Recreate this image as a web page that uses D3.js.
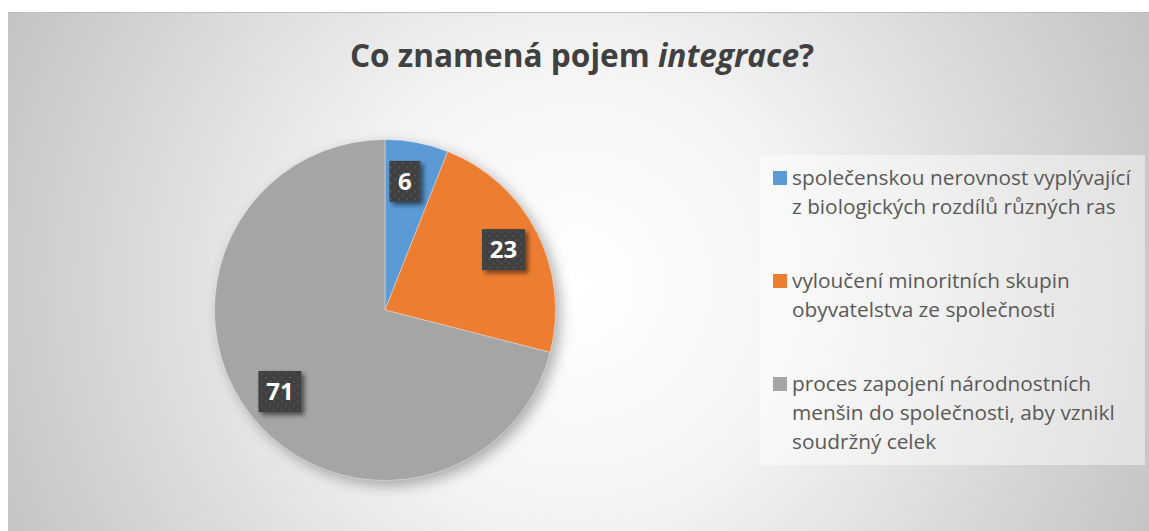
<!DOCTYPE html>
<html>
<head>
<meta charset="utf-8">
<script src="https://cdn.jsdelivr.net/npm/d3@7"></script>
<style>
  body { margin: 0; background: #fff; }
  svg { display: block; font-family: "Open Sans", sans-serif; }
</style>
</head>
<body>
<svg id="chart" width="1149" height="531"></svg>
<script>
// data
var categories = [
  ["společenskou nerovnost vyplývající", "z biologických rozdílů různých ras"],
  ["vyloučení minoritních skupin", "obyvatelstva ze společnosti"],
  ["proces zapojení národnostních", "menšin do společnosti, aby vznikl", "soudržný celek"]
];
var values = [6, 23, 71];
var colors = ["#5b9bd5", "#ed7d31", "#a5a5a5"];

var width = 1149, height = 531;
var cx = 385, cy = 310, radius = 170.5;

var svg = d3.select("#chart");
var defs = svg.append("defs");

// background gradient, white in the middle and grey to the corners
var bg = defs.append("radialGradient")
    .attr("id", "bg")
    .attr("gradientUnits", "userSpaceOnUse")
    .attr("cx", 575).attr("cy", 285).attr("r", 640);
bg.append("stop").attr("offset", "0").attr("stop-color", "#ffffff");
bg.append("stop").attr("offset", "0.35").attr("stop-color", "#f4f4f4");
bg.append("stop").attr("offset", "1").attr("stop-color", "#c2c2c2");

var blur = defs.append("filter").attr("id", "pieShadow")
    .attr("x", "-20%").attr("y", "-20%").attr("width", "140%").attr("height", "140%");
blur.append("feGaussianBlur").attr("stdDeviation", 7);

var boxShadow = defs.append("filter").attr("id", "boxShadow")
    .attr("x", "-30%").attr("y", "-30%").attr("width", "170%").attr("height", "170%");
boxShadow.append("feGaussianBlur").attr("in", "SourceAlpha").attr("stdDeviation", 2.5).attr("result", "b");
boxShadow.append("feOffset").attr("in", "b").attr("dx", 3).attr("dy", 3).attr("result", "o");
boxShadow.append("feComponentTransfer").attr("in", "o").attr("result", "s")
  .append("feFuncA").attr("type", "linear").attr("slope", 0.55);
var merge = boxShadow.append("feMerge");
merge.append("feMergeNode").attr("in", "s");
merge.append("feMergeNode").attr("in", "SourceGraphic");

// dotted fill of the data labels
var dots = defs.append("pattern").attr("id", "dots")
    .attr("patternUnits", "userSpaceOnUse").attr("width", 8).attr("height", 8);
dots.append("rect").attr("width", 8).attr("height", 8).attr("fill", "#404040");
dots.append("circle").attr("cx", 2).attr("cy", 2).attr("r", 1.1).attr("fill", "#595959");
dots.append("circle").attr("cx", 6).attr("cy", 6).attr("r", 1.1).attr("fill", "#555555");

svg.append("rect")
    .attr("x", 8).attr("y", 12)
    .attr("width", width - 8).attr("height", height - 12)
    .attr("fill", "url(#bg)");
svg.append("line")
    .attr("x1", 8).attr("x2", width).attr("y1", 12.5).attr("y2", 12.5)
    .attr("stroke", "#bdbdbd").attr("stroke-width", 1);

// title
var title = svg.append("text")
    .attr("x", 582).attr("y", 67)
    .attr("text-anchor", "middle")
    .attr("font-size", 31.6).attr("font-weight", "bold")
    .attr("fill", "#404040");
title.append("tspan").text("Co znamená pojem ");
title.append("tspan").attr("font-style", "italic").text("integrace");
title.append("tspan").text("?");

// pie
var pie = d3.pie().sort(null).value(function(d) { return d; });
var arcs = pie(values);
var arc = d3.arc().innerRadius(0).outerRadius(radius);
var labelArc = d3.arc().innerRadius(radius * 0.78).outerRadius(radius * 0.78);

var g = svg.append("g").attr("transform", "translate(" + cx + "," + cy + ")");

g.append("circle")
    .attr("cx", 5).attr("cy", 5).attr("r", radius)
    .attr("fill", "#000").attr("opacity", 0.3)
    .attr("filter", "url(#pieShadow)");

g.selectAll("path.slice")
  .data(arcs)
  .enter()
  .append("path")
    .attr("class", "slice")
    .attr("d", arc)
    .attr("fill", function(d, i) { return colors[i]; })
    .attr("stroke", "#ffffff")
    .attr("stroke-opacity", 0.6)
    .attr("stroke-width", 0.6);

var labels = g.selectAll("g.lbl")
  .data(arcs)
  .enter()
  .append("g")
    .attr("class", "lbl")
    .attr("transform", function(d) {
      var c = labelArc.centroid(d);
      // keep small labels clear of the slice edge, like the original does
      var w = d.data < 10 ? 31 : 43;
      if (c[0] > 0 && c[0] - w / 2 < 5) c[0] = 5 + w / 2;
      if (d.data < 10) { c[0] -= 5; c[1] += 2; }
      return "translate(" + c[0] + "," + c[1] + ")";
    });

labels.append("rect")
    .attr("x", function(d) { return d.data < 10 ? -15.5 : -21.5; })
    .attr("y", -20.5)
    .attr("width", function(d) { return d.data < 10 ? 31 : 43; })
    .attr("height", 41)
    .attr("fill", "url(#dots)")
    .attr("filter", "url(#boxShadow)");

labels.append("text")
    .attr("text-anchor", "middle")
    .attr("dy", "0.36em")
    .attr("font-size", 24).attr("font-weight", "bold")
    .attr("fill", "#ffffff")
    .text(function(d) { return d.data; });

// legend
svg.append("rect")
    .attr("x", 760).attr("y", 155)
    .attr("width", 385).attr("height", 310)
    .attr("fill", "#ffffff").attr("fill-opacity", 0.45);

var legend = svg.selectAll("g.legend")
  .data(categories)
  .enter()
  .append("g")
    .attr("class", "legend")
    .attr("transform", function(d, i) { return "translate(773," + (178 + i * 103) + ")"; });

legend.append("rect")
    .attr("x", 0).attr("y", -7)
    .attr("width", 14).attr("height", 14)
    .attr("fill", function(d, i) { return colors[i]; });

legend.append("text")
    .attr("x", 19)
    .attr("font-size", 20.8)
    .attr("fill", "#595959")
    .selectAll("tspan")
    .data(function(d) { return d; })
    .enter()
    .append("tspan")
      .attr("x", 19)
      .attr("y", function(d, j) { return j * 29; })
      .attr("dy", "0.35em")
      .text(function(d) { return d; });
</script>
</body>
</html>
